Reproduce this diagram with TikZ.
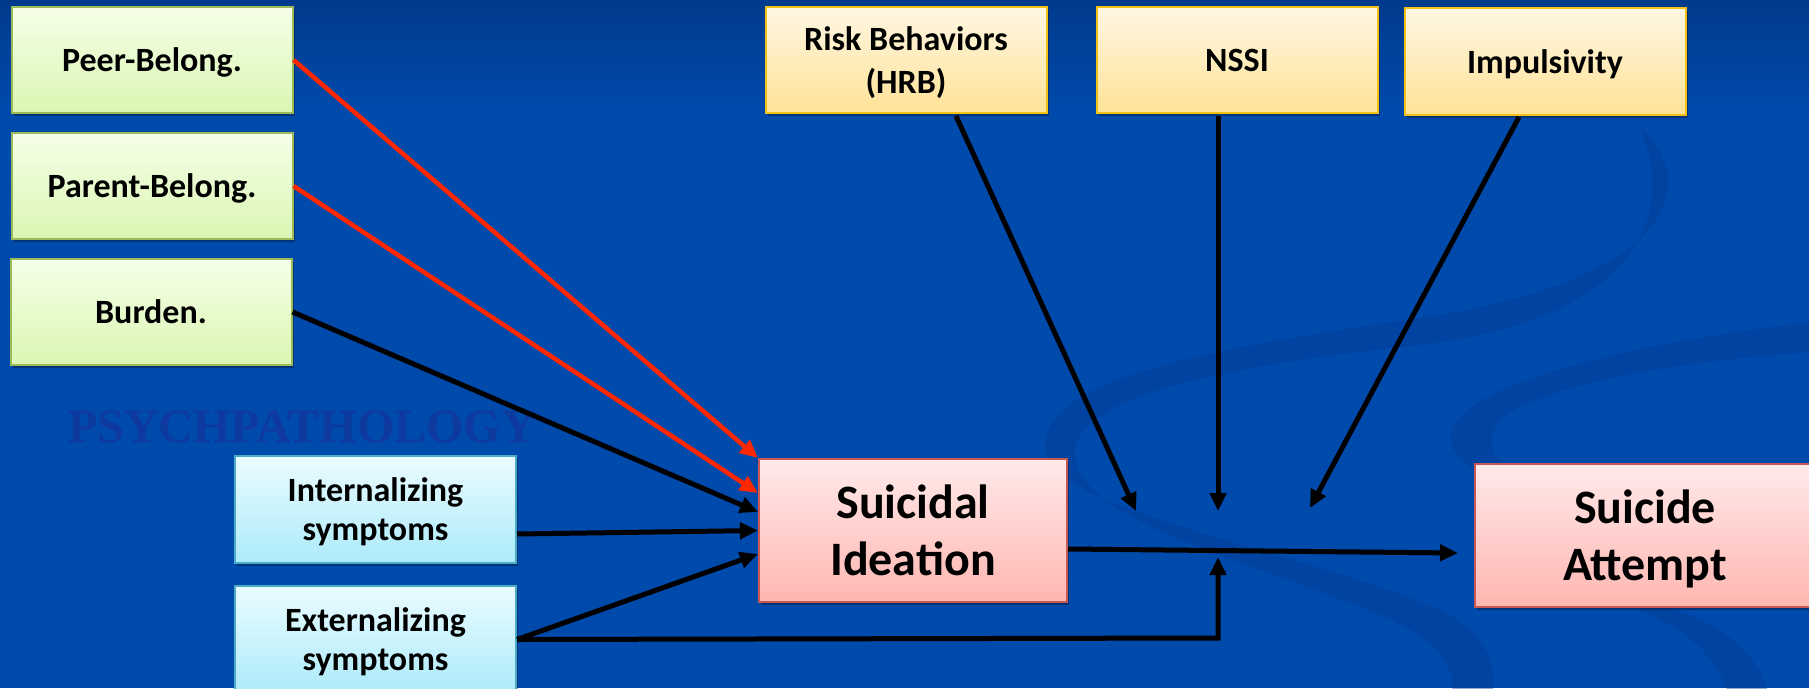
\documentclass[tikz,border=0pt]{standalone}
\usepackage{fontspec}
\setmainfont{Carlito}
\newfontfamily\titleserif{Liberation Serif}
\usetikzlibrary{arrows.meta,shadows}

\definecolor{bgmain}{RGB}{0,74,172}
\definecolor{bgtop}{RGB}{0,58,140}
\definecolor{swoosh}{RGB}{0,58,145}
\definecolor{watermark}{RGB}{14,58,160}
\definecolor{greentop}{RGB}{245,255,232}
\definecolor{greenbot}{RGB}{218,246,178}
\definecolor{greenedge}{RGB}{155,187,89}
\definecolor{yellowtop}{RGB}{255,247,228}
\definecolor{yellowbot}{RGB}{255,226,150}
\definecolor{yellowedge}{RGB}{242,195,20}
\definecolor{bluetop}{RGB}{234,252,255}
\definecolor{bluebot}{RGB}{172,234,250}
\definecolor{blueedge}{RGB}{75,172,198}
\definecolor{pinktop}{RGB}{255,234,234}
\definecolor{pinkbot}{RGB}{255,182,177}
\definecolor{pinkedge}{RGB}{200,88,84}
\definecolor{redline}{RGB}{255,38,0}

\tikzset{
  box/.style={draw, line width=2pt, align=center, inner sep=0pt, text=black,
    text depth=0pt, font=\bfseries\fontsize{34}{41}\selectfont,
    general shadow={fill=black, opacity=0.3, shadow xshift=2pt, shadow yshift=-3pt}},
  greenbox/.style={box, draw=greenedge, top color=greentop, bottom color=greenbot,
    minimum width=281pt, minimum height=106pt},
  yellowbox/.style={box, draw=yellowedge, top color=yellowtop, bottom color=yellowbot,
    font=\bfseries\fontsize{34}{43}\selectfont,
    minimum width=281pt, minimum height=106pt},
  bluebox/.style={box, draw=blueedge, top color=bluetop, bottom color=bluebot,
    font=\bfseries\fontsize{34}{39}\selectfont,
    minimum width=281pt, minimum height=107pt},
  pinkbox/.style={box, draw=pinkedge, top color=pinktop, bottom color=pinkbot,
    font=\bfseries\fontsize{48}{57}\selectfont, minimum height=143pt},
  tip/.style={-{Triangle[length=18pt,width=16pt]}},
  blackpath/.style={draw=black, line width=5pt, tip},
  redpath/.style={draw=redline, line width=4.5pt, tip},
  band/.style={fill=swoosh, opacity=0.4}
}

\begin{document}
\begin{tikzpicture}[x=1pt,y=-1pt]
\useasboundingbox (0,0) rectangle (1809,688);
\clip (0,0) rectangle (1809,688);

% background with darker upper edge
\fill[bgmain] (0,0) rectangle (1809,688);
\shade[top color=bgtop, bottom color=bgmain] (0,0) rectangle (1809,110);

% decorative swooshes
\fill[band] (1640,128) .. controls (1700,180) and (1680,280) .. (1420,318)
  .. controls (1200,350) and (1040,380) .. (1045,450)
  .. controls (1050,510) and (1300,550) .. (1440,610)
  .. controls (1490,635) and (1500,670) .. (1490,700)
  -- (1450,700) .. controls (1460,670) and (1440,640) .. (1380,615)
  .. controls (1250,560) and (1070,520) .. (1075,450)
  .. controls (1080,395) and (1230,365) .. (1420,345)
  .. controls (1630,320) and (1680,220) .. (1640,128) -- cycle;
\fill[band] (1815,322) .. controls (1650,340) and (1470,380) .. (1452,430)
  .. controls (1445,455) and (1470,470) .. (1500,480)
  -- (1510,470) .. controls (1490,455) and (1485,440) .. (1500,420)
  .. controls (1540,385) and (1680,360) .. (1815,352) -- cycle;
\fill[band] (1640,600) .. controls (1720,620) and (1760,650) .. (1770,700)
  -- (1730,700) .. controls (1720,660) and (1690,630) .. (1640,610) -- cycle;

% faint heading
\node[font=\titleserif\bfseries\fontsize{48}{48}\selectfont, text=watermark]
  (psy) at (302,427) {PSYCHPATHOLOGY};

% belonging / burden
\node[greenbox] (peer)   at (152,60)  {Peer-Belong.};
\node[greenbox] (parent) at (152,186) {Parent-Belong.};
\node[greenbox] (burden) at (151,312) {Burden.};

% psychopathology
\node[bluebox] (intern) at (375.5,509.5) {Internalizing\\symptoms};
\node[bluebox] (extern) at (375.5,639.5) {Externalizing\\symptoms};

% moderators
\node[yellowbox] (risk)  at (906,60)    {Risk Behaviors\\(HRB)};
\node[yellowbox] (nssi)  at (1237,60)   {NSSI};
\node[yellowbox, minimum height=107pt] (impuls) at (1545,61.5) {Impulsivity};

% outcomes
\node[pinkbox, minimum width=308pt] (si) at (913,530.5) {Suicidal\\Ideation};
\node[pinkbox, minimum width=340pt] (sa) at (1645,535)  {Suicide\\Attempt};

% ends of the moderating arrows on the main path
\coordinate (mrisk)   at (1136,511);
\coordinate (mnssi)   at (1218,511);
\coordinate (mimp)    at (1310,508);
\coordinate (extturn) at (1218,638);
\coordinate (mext)    at (1218,557);

% predictors of ideation
\draw[redpath] (peer.east) -- (si.north west);
\draw[redpath] (parent.east) -- ([yshift=37.5pt]si.west);
\draw[blackpath] (burden.east) -- ([yshift=18.5pt]si.west);
\draw[blackpath] ([yshift=-24.5pt]intern.east) -- (si.west);
\draw[blackpath] (extern.east) -- ([yshift=-23.5pt]si.west);

% ideation to attempt
\draw[blackpath] ([yshift=-18.5pt]si.east) -- ([xshift=-16pt,yshift=-18pt]sa.west);

% moderators onto the ideation-attempt path
\draw[blackpath] ([xshift=50pt,yshift=-2pt]risk.south) -- (mrisk);
\draw[blackpath] ([xshift=-19pt,yshift=-2pt]nssi.south) -- (mnssi);
\draw[blackpath] ([xshift=-26pt,yshift=-1pt]impuls.south) -- (mimp);
\draw[blackpath, line join=miter] (extern.east) -- (extturn) -- (mext);
\end{tikzpicture}
\end{document}
